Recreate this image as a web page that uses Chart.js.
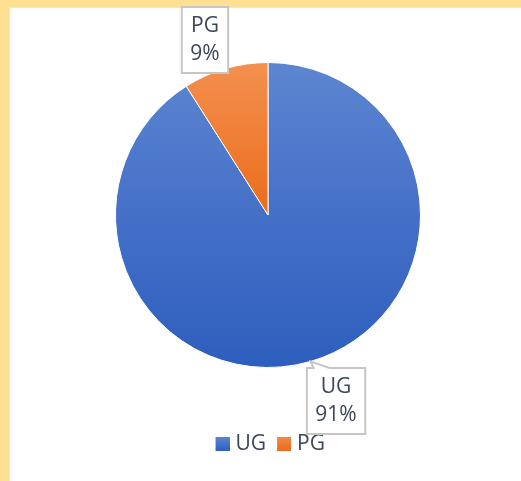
<!DOCTYPE html>
<html>
<head>
<meta charset="utf-8">
<script src="https://cdn.jsdelivr.net/npm/chart.js@4.4.0/dist/chart.umd.min.js"></script>
<style>
  html, body { margin: 0; padding: 0; width: 521px; height: 481px; overflow: hidden; background: #FFE093; }
  #panel { position: absolute; left: 9px; top: 7px; right: 0; bottom: 0; background: #ffffff;
           border-left: 1px solid #e2e7ee; border-top: 1px solid #e2e7ee; }
  #wrap { position: absolute; left: 0; top: 0; width: 521px; height: 481px; }
</style>
</head>
<body>
<div id="panel"></div>
<div id="wrap"><canvas id="c" width="521" height="481"></canvas></div>
<script>
const categories = ['UG', 'PG'];
const values = [91, 9];

const FONT = '"Open Sans", "Noto Sans", sans-serif';
const TEXT = '#3b4657';

// gradient colour stops per slice (top -> bottom of the pie)
const gradStops = [
  ['#5D85D0', '#4470C8', '#2E5EBD'],
  ['#F4904F', '#EB6C1C', '#DE5E0E']
];
const legendStops = [
  ['#5A84D2', '#2F60C0'],
  ['#F48A48', '#E86B1A']
];
const labelOffsets = [ {dx: 25.5, dy: 39.5}, {dx: -20.5, dy: -28.5} ];

// legend swatch: 14x14 gradient square, drawn shifted right inside a wider canvas
function makeSwatch(stops) {
  const shift = 4.5;
  const cv = document.createElement('canvas');
  cv.width = 14 + 2 * shift; cv.height = 14;
  const c = cv.getContext('2d');
  const g = c.createLinearGradient(0, 0, 0, 14);
  g.addColorStop(0, stops[0]);
  g.addColorStop(1, stops[1]);
  c.fillStyle = g;
  c.fillRect(2 * shift, 0, 14, 14);
  return cv;
}

function sliceFill(context) {
  const chart = context.chart;
  const i = context.dataIndex;
  const area = chart.chartArea;
  if (!area) return gradStops[i][1];
  const meta = chart.getDatasetMeta(0);
  const arc = meta.data[i];
  let cy = (area.top + area.bottom) / 2, r = 152;
  if (arc && arc.outerRadius) { cy = arc.y || cy; r = arc.outerRadius; }
  const g = chart.ctx.createLinearGradient(0, cy - r, 0, cy + r);
  g.addColorStop(0, gradStops[i][0]);
  g.addColorStop(0.5, gradStops[i][1]);
  g.addColorStop(1, gradStops[i][2]);
  return g;
}

const calloutPlugin = {
  id: 'callouts',
  afterDatasetsDraw(chart) {
    const ctx = chart.ctx;
    const meta = chart.getDatasetMeta(0);
    const data = chart.data.datasets[0].data;
    const total = data.reduce((a, b) => a + b, 0);
    ctx.save();
    ctx.font = '21px ' + FONT;
    meta.data.forEach((arc, i) => {
      const p = arc.getProps(['x', 'y', 'startAngle', 'endAngle', 'outerRadius'], true);
      const mid = (p.startAngle + p.endAngle) / 2;
      const ax = p.x + Math.cos(mid) * p.outerRadius;
      const ay = p.y + Math.sin(mid) * p.outerRadius;
      const lines = [chart.data.labels[i], Math.round(data[i] / total * 100) + '%'];
      const tw = Math.max(...lines.map(t => ctx.measureText(t).width));
      const w = tw + 17, h = 66;
      const cx = ax + labelOffsets[i].dx, cy = ay + labelOffsets[i].dy;
      const L = cx - w / 2, T = cy - h / 2, R = cx + w / 2, B = cy + h / 2;
      ctx.beginPath();
      ctx.moveTo(L, T);
      if (ay < T && ax >= L - 10 && ax <= R) {
        ctx.lineTo(Math.max(L, ax + 3), T);
        ctx.lineTo(ax, ay);
        ctx.lineTo(Math.min(R, ax + 19), T);
      }
      ctx.lineTo(R, T);
      ctx.lineTo(R, B);
      ctx.lineTo(L, B);
      ctx.closePath();
      ctx.fillStyle = '#ffffff';
      ctx.fill();
      ctx.lineWidth = 2;
      ctx.strokeStyle = '#c6c6c6';
      ctx.stroke();
      ctx.fillStyle = TEXT;
      ctx.textAlign = 'center';
      ctx.textBaseline = 'middle';
      ctx.fillText(lines[0], cx, cy - 14);
      ctx.fillText(lines[1], cx, cy + 14);
    });
    ctx.restore();
  }
};

new Chart(document.getElementById('c'), {
  type: 'pie',
  data: {
    labels: categories,
    datasets: [{
      data: values,
      backgroundColor: sliceFill,
      borderColor: '#ffffff',
      borderWidth: 1,
      radius: 152.5
    }]
  },
  options: {
    responsive: false,
    animation: false,
    layout: { padding: { left: 15, right: 0, top: 3, bottom: 16.5 } },
    plugins: {
      tooltip: { enabled: false },
      legend: {
        position: 'bottom',
        labels: {
          font: { family: FONT, size: 21 },
          color: TEXT,
          boxWidth: 14,
          boxHeight: 14,
          padding: 6.5,
          usePointStyle: true,
          generateLabels(chart) {
            return chart.data.labels.map((l, i) => ({
              text: l, fillStyle: legendStops[i][1], strokeStyle: legendStops[i][1],
              pointStyle: makeSwatch(legendStops[i]),
              lineWidth: 0, hidden: false, index: i, fontColor: TEXT
            }));
          }
        }
      }
    }
  },
  plugins: [calloutPlugin]
});
</script>
</body>
</html>
